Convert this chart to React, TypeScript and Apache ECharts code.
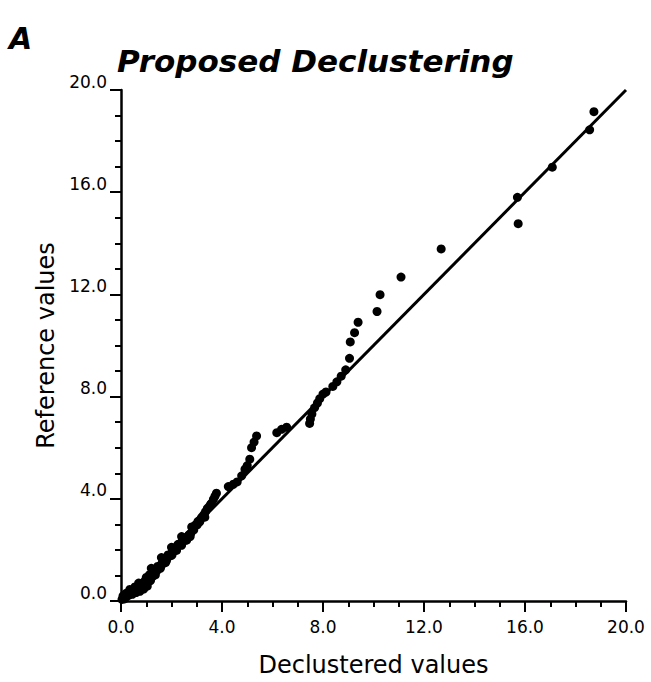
import React, { useEffect, useRef } from "react";
import * as echarts from "echarts";

// Declustered estimate (x) and reference value (y) for each sample
const declustered = [
  0.04, 0.1, 0.14, 0.22, 0.3, 0.38, 0.45, 0.52, 0.6, 0.68, 0.75, 0.82, 0.9, 0.97,
  1.04, 1.1, 1.17, 1.2, 1.24, 1.3, 1.36, 1.42, 1.5, 1.56, 1.6, 1.63, 1.7, 1.76, 1.83,
  1.9, 1.97, 2.0, 2.03, 2.1, 2.16, 2.23, 2.3, 2.36, 2.4, 2.43, 2.5, 2.56, 2.62, 2.7,
  2.77, 2.8, 2.85, 2.92, 2.98, 3.05, 3.12, 3.2, 3.28, 3.35, 3.42, 3.5, 3.58, 3.66,
  3.72, 3.78, 0.08, 0.2, 0.35, 0.55, 0.7, 0.86, 1.0, 1.12, 1.28, 1.45, 1.66, 1.86,
  2.06, 2.26, 2.47, 2.66, 2.88, 3.02, 3.15, 3.32, 3.55,
  1.4, 1.58, 1.8, 2.02, 2.2, 2.4, 2.6, 2.74,
  4.25, 4.45, 4.6, 4.78, 4.91, 5.0, 5.1, 5.17, 5.27, 5.37, 6.17, 6.36,
  6.56, 7.47, 7.5, 7.56, 7.67, 7.78, 7.87, 8.0, 8.12, 8.39, 8.55, 8.72, 8.9, 9.05,
  9.08, 9.25, 9.39, 10.14, 10.26, 11.09, 12.68, 15.73, 15.7, 17.08, 18.56, 18.73,
];
const reference = [
  0.06, 0.15, 0.08, 0.18, 0.22, 0.3, 0.26, 0.36, 0.33, 0.42, 0.38, 0.5, 0.47, 0.62,
  0.58, 0.76, 0.8, 1.28, 0.95, 1.05, 1.02, 1.18, 1.3, 1.28, 1.7, 1.45, 1.52, 1.5, 1.68,
  1.75, 1.78, 2.1, 1.92, 2.02, 2.0, 2.16, 2.22, 2.2, 2.52, 2.36, 2.4, 2.38, 2.5, 2.6,
  2.66, 2.9, 2.8, 2.95, 3.0, 3.12, 3.1, 3.28, 3.38, 3.5, 3.62, 3.7, 3.82, 3.98,
  4.1, 4.22, 0.2, 0.3, 0.45, 0.55, 0.7, 0.7, 0.92, 1.02, 1.15, 1.35, 1.55, 1.8,
  1.98, 2.22, 2.45, 2.55, 2.78, 2.98, 3.2, 3.28, 3.78,
  1.18, 1.36, 1.58, 1.8, 1.98, 2.18, 2.38, 2.52,
  4.48, 4.57, 4.66, 4.9, 5.16, 5.3, 5.55, 6.0, 6.22, 6.46, 6.59, 6.72,
  6.8, 6.95, 7.12, 7.32, 7.57, 7.75, 7.92, 8.1, 8.18, 8.4, 8.58, 8.8, 9.05, 9.5,
  10.14, 10.5, 10.91, 11.33, 11.99, 12.68, 13.78, 14.77, 15.8, 16.98, 18.44, 19.15,
];

// 1:1 reference line
const identityLine = [
  [0, 0],
  [20, 20],
];

const axisMin = 0;
const axisMax = 20;
const majorStep = 4;

const FONT = "DejaVu Sans";

export default function App() {
  const ref = useRef<HTMLDivElement>(null);

  useEffect(() => {
    document.body.style.margin = "0";
    if (!ref.current) return;
    const chart = echarts.init(ref.current, undefined, { renderer: "svg" });

    const axisCommon = {
      type: "value" as const,
      min: axisMin,
      max: axisMax,
      interval: majorStep,
      nameLocation: "middle" as const,
      nameTextStyle: { fontFamily: FONT, fontSize: 24, color: "#000" },
      axisLine: { show: true, onZero: false, lineStyle: { color: "#000", width: 2.5 } },
      axisTick: { show: true, inside: false, length: 11, lineStyle: { color: "#000", width: 2 } },
      minorTick: { show: true, splitNumber: 4, length: 6, lineStyle: { color: "#000", width: 2 } },
      splitLine: { show: false },
      axisLabel: {
        fontFamily: FONT,
        fontSize: 17,
        color: "#000",
        formatter: (v: number) => v.toFixed(1),
      },
    };

    chart.setOption({
      animation: false,
      backgroundColor: "#fff",
      grid: { left: 121, right: 25, top: 90, bottom: 80 },
      graphic: [
        {
          type: "text",
          left: 9,
          top: 23,
          style: {
            text: "A",
            fontFamily: FONT,
            fontSize: 30,
            fontWeight: "bold",
            fontStyle: "italic",
            fill: "#000",
          },
        },
        {
          type: "text",
          left: 117,
          top: 45,
          style: {
            text: "Proposed Declustering",
            fontFamily: FONT,
            fontSize: 31,
            fontWeight: "bold",
            fontStyle: "italic",
            fill: "#000",
          },
        },
      ],
      xAxis: {
        ...axisCommon,
        name: "Declustered values",
        nameGap: 52,
        axisLabel: { ...axisCommon.axisLabel, margin: 17 },
      },
      yAxis: {
        ...axisCommon,
        name: "Reference values",
        nameGap: 62,
        axisLabel: { ...axisCommon.axisLabel, margin: 14, verticalAlign: "bottom" },
      },
      series: [
        {
          type: "line",
          data: identityLine,
          symbol: "none",
          lineStyle: { color: "#000", width: 3 },
          z: 2,
        },
        {
          type: "scatter",
          data: declustered.map((x, i) => [x, reference[i]]),
          symbol: "circle",
          symbolSize: 9,
          itemStyle: { color: "#000", opacity: 1 },
          z: 3,
        },
      ],
    });

    return () => chart.dispose();
  }, []);

  return <div ref={ref} style={{ width: 651, height: 682 }} />;
}
